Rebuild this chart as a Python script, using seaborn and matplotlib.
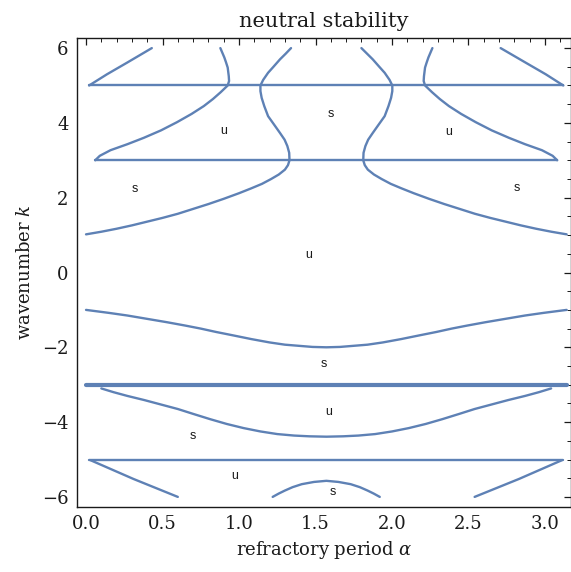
import numpy as np
import matplotlib
matplotlib.use("Agg")
import matplotlib.pyplot as plt
import seaborn as sns
from matplotlib.ticker import MultipleLocator, FormatStrFormatter

# ---- neutral-stability curves in the (alpha, k) plane ----
# horizontal branches
line_k5_alpha = [0.02, 3.12]
line_k5_k = [5.0, 5.0]
line_k3_alpha = [0.06, 3.08]
line_k3_k = [3.0, 3.0]
line_km3_alpha = [0.0, 3.1416]
line_km3_k = [-3.0, -3.0]
line_km5_alpha = [0.02, 3.12]
line_km5_k = [-5.0, -5.0]

# short branches above k = 5
upper_left_alpha = [0.02, 0.137, 0.268, 0.43]
upper_left_k = [5.0, 5.3, 5.61, 6.0]
upper_right_alpha = [3.12, 3.005, 2.874, 2.71]
upper_right_k = [5.0, 5.3, 5.61, 6.0]

# branch from k = 3 up through k = 5
outer_left_alpha = [0.06, 0.09, 0.16, 0.27, 0.377, 0.49, 0.595, 0.69, 0.77,
                    0.83, 0.88, 0.926, 0.935, 0.933, 0.926, 0.915, 0.904, 0.878]
outer_left_k = [3.0, 3.12, 3.27, 3.43, 3.6, 3.8, 4.02, 4.24, 4.45,
                4.64, 4.82, 5.0, 5.12, 5.25, 5.48, 5.62, 5.75, 6.0]
outer_right_alpha = [3.08, 3.05, 2.98, 2.87, 2.765, 2.652, 2.547, 2.452, 2.372,
                     2.312, 2.262, 2.216, 2.207, 2.209, 2.216, 2.227, 2.238, 2.264]
outer_right_k = [3.0, 3.12, 3.27, 3.43, 3.6, 3.8, 4.02, 4.24, 4.45,
                 4.64, 4.82, 5.0, 5.12, 5.25, 5.48, 5.62, 5.75, 6.0]

# inner S-shaped branches reaching down to k = 1
inner_left_alpha = [1.34, 1.305, 1.268, 1.225, 1.19, 1.158, 1.14, 1.14, 1.148,
                    1.165, 1.19, 1.23, 1.268, 1.298, 1.316, 1.328, 1.33,
                    1.32, 1.30, 1.26, 1.21, 1.15, 1.08, 1.0, 0.9, 0.8,
                    0.7, 0.6, 0.5, 0.4, 0.3, 0.2, 0.1, 0.0]
inner_left_k = [6.0, 5.85, 5.7, 5.5, 5.34, 5.15, 5.0, 4.85, 4.67,
                4.45, 4.18, 3.95, 3.73, 3.55, 3.38, 3.2, 3.0,
                2.87, 2.75, 2.62, 2.5, 2.37, 2.25, 2.12, 1.97, 1.83,
                1.70, 1.57, 1.46, 1.36, 1.26, 1.17, 1.09, 1.02]
inner_right_alpha = [1.80, 1.837, 1.874, 1.917, 1.952, 1.984, 2.002, 2.002, 1.994,
                     1.977, 1.952, 1.912, 1.874, 1.844, 1.826, 1.814, 1.812,
                     1.822, 1.842, 1.882, 1.932, 1.992, 2.062, 2.142, 2.242, 2.342,
                     2.442, 2.542, 2.642, 2.742, 2.842, 2.942, 3.042, 3.1416]
inner_right_k = [6.0, 5.85, 5.7, 5.5, 5.34, 5.15, 5.0, 4.85, 4.67,
                 4.45, 4.18, 3.95, 3.73, 3.55, 3.38, 3.2, 3.0,
                 2.87, 2.75, 2.62, 2.5, 2.37, 2.25, 2.12, 1.97, 1.83,
                 1.70, 1.57, 1.46, 1.36, 1.26, 1.17, 1.09, 1.02]

# trough between k = -1 and k = -2
trough_alpha = [0.0, 0.15, 0.27, 0.4, 0.53, 0.65, 0.75, 0.85, 0.96, 1.08,
                1.2, 1.3, 1.39, 1.48, 1.571, 1.66, 1.75, 1.84, 1.94, 2.06,
                2.18, 2.29, 2.39, 2.49, 2.61, 2.74, 2.87, 2.99, 3.1416]
trough_k = [-1.0, -1.08, -1.15, -1.24, -1.33, -1.42, -1.5, -1.59, -1.68, -1.78,
            -1.87, -1.93, -1.96, -1.99, -2.0, -1.99, -1.96, -1.93, -1.87, -1.78,
            -1.68, -1.59, -1.5, -1.42, -1.33, -1.24, -1.15, -1.08, -1.0]

# trough below k = -3
deep_alpha = [0.1, 0.18, 0.27, 0.38, 0.49, 0.6, 0.7, 0.81, 0.92, 1.03,
              1.14, 1.25, 1.36, 1.46, 1.571, 1.68, 1.78, 1.89, 2.0, 2.11,
              2.22, 2.33, 2.44, 2.54, 2.65, 2.76, 2.87, 2.96, 3.04]
deep_k = [-3.1, -3.2, -3.3, -3.41, -3.53, -3.65, -3.78, -3.92, -4.05, -4.16,
          -4.25, -4.32, -4.36, -4.38, -4.39, -4.38, -4.36, -4.32, -4.25, -4.16,
          -4.05, -3.92, -3.78, -3.65, -3.53, -3.41, -3.3, -3.2, -3.1]

# short branches below k = -5
lower_left_alpha = [0.03, 0.31, 0.6]
lower_left_k = [-5.02, -5.52, -6.0]
lower_right_alpha = [3.11, 2.83, 2.54]
lower_right_k = [-5.02, -5.52, -6.0]

# arch at the bottom
arch_alpha = [1.22, 1.26, 1.30, 1.35, 1.41, 1.49, 1.571, 1.65, 1.73, 1.79, 1.84, 1.88, 1.92]
arch_k = [-6.0, -5.91, -5.83, -5.74, -5.66, -5.6, -5.57, -5.6, -5.66, -5.74, -5.83, -5.91, -6.0]

# stable / unstable region markers
region_text = ["u", "s", "s", "u", "s", "u", "s", "u", "s", "u", "s"]
region_alpha = [0.90, 0.32, 1.60, 2.37, 2.815, 1.457, 1.556, 1.584, 0.695, 0.97, 1.61]
region_k = [3.78, 2.23, 4.23, 3.75, 2.26, 0.46, -2.44, -3.74, -4.37, -5.44, -5.87]

curves = [
    (line_k5_alpha, line_k5_k), (line_k3_alpha, line_k3_k),
    (line_km5_alpha, line_km5_k),
    (upper_left_alpha, upper_left_k), (upper_right_alpha, upper_right_k),
    (outer_left_alpha, outer_left_k), (outer_right_alpha, outer_right_k),
    (inner_left_alpha, inner_left_k), (inner_right_alpha, inner_right_k),
    (trough_alpha, trough_k), (deep_alpha, deep_k),
    (lower_left_alpha, lower_left_k), (lower_right_alpha, lower_right_k),
    (arch_alpha, arch_k),
]

sns.set_style("white")
plt.rcParams["font.family"] = ["DejaVu Serif"]
plt.rcParams["mathtext.fontset"] = "dejavuserif"

LINE = "#5E81B5"
INK = "#1a1a1a"

fig = plt.figure(figsize=(5.71, 5.72), dpi=100)
ax = fig.add_axes([77 / 571, 65 / 572, 494 / 571, 469 / 572])

for a, k in curves:
    sns.lineplot(x=a, y=k, sort=False, estimator=None, color=LINE,
                 linewidth=1.7, ax=ax)
for l in ax.lines:
    l.set_solid_joinstyle("round")
    l.set_solid_capstyle("round")
# doubled contour at k = -3
sns.lineplot(x=line_km3_alpha, y=line_km3_k, sort=False, estimator=None,
             color=LINE, linewidth=3.0, ax=ax)

for t, a, k in zip(region_text, region_alpha, region_k):
    ax.text(a, k, t, ha="center", va="center", fontsize=9,
            family="Liberation Sans", color=INK)

ax.set_xlim(-0.059, 3.17)
ax.set_ylim(-6.27, 6.27)

ax.xaxis.set_major_locator(MultipleLocator(0.5))
ax.xaxis.set_minor_locator(MultipleLocator(0.1))
ax.xaxis.set_major_formatter(FormatStrFormatter("%.1f"))
ax.yaxis.set_major_locator(MultipleLocator(2))
ax.yaxis.set_minor_locator(MultipleLocator(0.5))

ax.tick_params(which="both", top=True, right=True, direction="in",
               colors=INK, labelsize=13)
ax.tick_params(which="major", length=5, width=0.9)
ax.tick_params(which="minor", length=2.9, width=0.7)
ax.yaxis.set_tick_params(which="major", direction="inout", length=10, pad=1)
ax.xaxis.set_tick_params(which="major", pad=6)

for s in ax.spines.values():
    s.set_color(INK)
    s.set_linewidth(1.0)

ax.set_title("neutral stability", fontsize=15, color=INK, pad=8)
ax.set_xlabel(r"refractory period $\alpha$", fontsize=13, color=INK, labelpad=4)
ax.set_ylabel(r"wavenumber $k$", fontsize=13, color=INK, labelpad=6)

fig.savefig("out.png", dpi=100)
